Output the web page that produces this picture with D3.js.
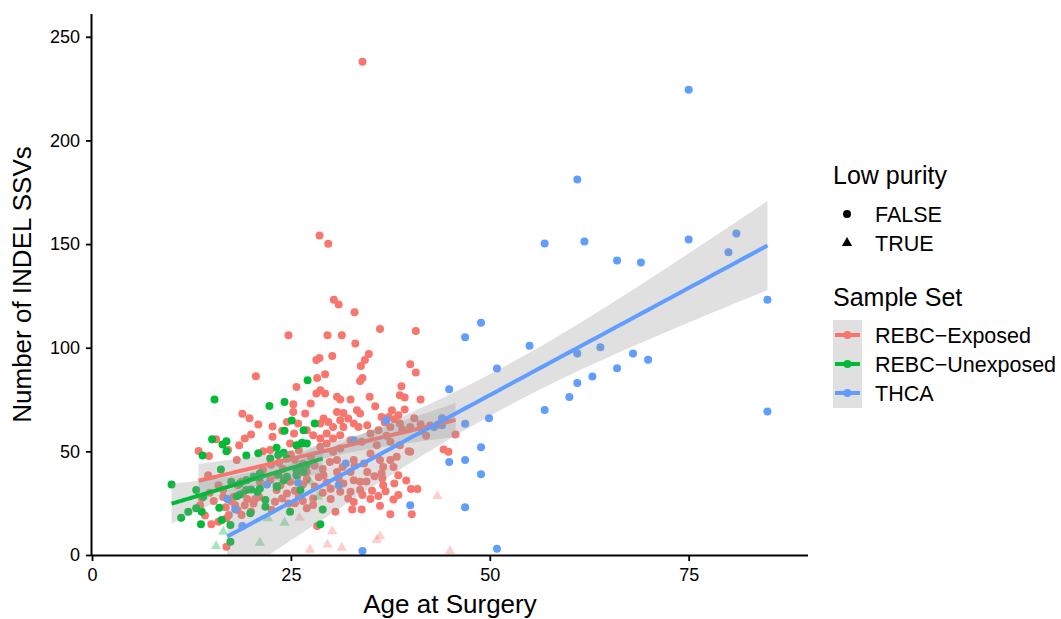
<!DOCTYPE html>
<html><head><meta charset="utf-8">
<script src="https://cdn.jsdelivr.net/npm/d3@7"></script>
<style>body{margin:0;background:#fff}svg{display:block;font-family:"Liberation Sans",Arial,Helvetica,sans-serif}</style>
</head><body><svg id="c" width="1061" height="619"></svg>
<script>
// ---- data: [age at surgery, number of INDEL SSVs] ----
const sampleSets = ["REBC\u2212Exposed", "REBC\u2212Unexposed", "THCA"];
const purityLevels = ["FALSE", "TRUE"];
const xTicks = [0, 25, 50, 75];
const yTicks = [0, 50, 100, 150, 200, 250];

const exposedFalse = [
[34.0,238],[28.6,154.1],[29.7,150.1],[30.4,123.2],[31.0,120.9],[33.0,117.1],[36.2,109.0],[40.7,108.1],[24.7,106.0],[29.6,106.0],[31.4,106.0],[33.1,102.0],[34.8,97.0],[34.3,94.1],[33.8,91.2],[30.2,96.0],[28.2,94.1],[28.6,95.1],[40.0,92.0],[40.7,88.0],[20.6,86.2],[29.3,87.2],[28.3,85.4],[34.0,85.4],[33.7,84.0],
[25.7,81.1],[25.3,72.7],[25.3,69.0],[18.9,68.1],[19.8,66.0],[20.9,62.9],[24.5,64.2],[25.9,63.4],[22.7,62.0],[23.9,59.9],[25.4,58.6],[20.0,58.1],[22.7,57.0],[15.6,55.9],[18.5,53.0],[13.4,50.2],[14.7,47.8],[21.5,50.1],[22.4,50.6],[24.9,53.8],
[38.9,81.4],[28.7,79.5],[29.3,77.9],[28.2,77.9],[30.8,76.3],[31.2,75.0],[32.5,75.0],[34.9,76.3],[38.7,77.1],[39.3,76.0],[41.3,75.0],[35.6,71.8],[27.5,73.1],[26.8,68.3],[30.8,69.0],[31.6,68.5],[33.3,69.8],[33.7,68.3],[37.7,69.8],[36.4,66.6],[37.3,66.6],[38.5,67.4],[29.1,65.8],[29.7,64.2],[28.7,63.4],[31.2,65.0],[32.2,65.8],[32.9,63.4],[30.3,61.8],[31.6,61.8],[33.5,61.8],[34.6,62.6],[36.0,60.2],[37.5,61.8],[38.7,63.4],[45.7,58.1],[44.2,50.9],[44.8,49.8],[27.0,60.2],[27.8,57.8],[28.7,56.2],[29.5,58.6],[30.3,56.2],[31.2,57.8],[35.0,58.6],[32.5,55.4],[33.9,54.6],[28.7,52.2],[29.5,53.8],[30.3,49.8],[31.2,51.4],[35.8,53.0],[37.5,54.6],[38.7,53.0],[40.0,49.8],[36.2,45.8],[37.5,45.8],[38.3,47.4],[35.0,49.0],[29.9,44.9],[30.8,45.8],[32.9,45.8],[34.2,44.2],
[39.3,70.2],[40.0,61.8],[41.3,63.1],[36.4,39.4],[39.8,50.1],
[27.0,40.1],[29.1,38.5],[30.8,40.1],[32.5,40.1],[34.6,40.1],[36.6,42.5],[37.9,42.5],[32.9,36.1],[33.7,35.3],[31.6,34.5],[31.2,30.5],[32.5,30.5],[33.7,31.3],[35.2,31.0],[36.6,33.7],[36.9,30.8],[37.9,26.8],[40.1,31.8],[40.9,31.8],[40.2,19.7],[36.2,23.7],[37.5,19.7],[32.9,25.6],[33.9,22.0],[32.7,22.0],[32.2,27.3],[30.6,20.9],[28.3,14.0],[27.8,24.1],[27.0,22.5],[27.8,27.3],
[15.9,33.7],[16.5,31.3],[14.6,38.5],[15.0,14.8],[15.9,16.0],[16.9,17.7],[17.2,19.3],[16.9,4.0],[18.8,19.3],[18.3,21.7],[23.2,31.3],[23.7,33.7],[24.5,29.7],[23.0,25.7],[23.9,27.3],[24.7,24.9],[22.6,21.7],[20.3,24.9],[18.3,33.7],[18.8,35.3],[19.4,36.1],[21.1,35.3],[22.4,36.1],[23.2,38.5],[24.1,36.9],[24.9,35.3],
[16.5,28.0],[18.0,24.0],[19.5,27.0],[21.0,28.0],[22.5,43.5],[23.5,44.5],[25.5,46.0],[26.5,44.0],[27.5,47.5],[28.0,43.0],[21.5,41.0],[19.0,30.0],[24.0,41.5],[17.5,26.0],[25.0,48.5],[26.0,50.5],
[25.5,31.0],[26.0,28.5],[26.5,34.0],[27.0,36.5],[28.0,33.0],[28.5,37.5],[29.5,35.0],[30.0,32.0],[29.0,30.0],[26.5,26.0],[25.5,25.0],[30.0,27.0],[31.0,37.0],[25.8,38.0],[29.0,41.5],[31.5,42.5],[33.0,43.0],[35.5,38.0],[34.5,35.5],[35.0,27.0],[34.0,29.0],[36.5,37.0],[38.5,38.5],[38.0,34.5],[39.5,36.0],[36.0,28.5],[38.5,29.0],
[42.5,62.5],[43.5,63.0],[41.5,60.0],[42.0,57.5],[17.1,50.6],[19.2,56.2],[18.2,45.8],
[13.6,24.0],[14.2,19.0],[15.3,26.0],[16.8,23.0],[17.8,28.0],[19.2,24.0],[20.5,27.0],[14.8,30.0],[13.8,27.5],[20.0,21.0],
[36.8,64.0],[38.0,65.5],[39.0,60.5],[40.5,66.0],[37.0,57.5]
];
const exposedTrue = [[43.4,28.4],[30.2,11.5],[29.6,5.0],[27.4,2.5],[31.4,3.5],[36.2,9.0],[35.8,7.2],[45.0,1.9],[26.1,17.9]];

const unexposedFalse = [
[15.4,75.0],[22.3,71.9],[24.2,73.8],[25.1,64.9],[24.2,59.9],[15.1,55.9],[16.9,54.9],[16.4,53.3],[16.9,50.1],[13.9,48.0],[19.4,48.0],[20.9,49.1],[23.2,51.7],[24.1,49.3],[25.7,53.0],[16.2,41.3],[27.1,84.3],[28.0,63.4],[26.6,60.2],[26.4,53.8],
[10.0,34.0],[13.1,31.3],[17.5,35.3],[18.6,29.2],[20.0,31.6],[20.8,30.5],[21.1,39.4],[20.3,37.7],[14.0,28.1],[11.2,18.0],[12.1,20.9],[13.1,22.5],[13.8,20.9],[16.0,22.8],[13.7,14.8],[16.3,16.9],[17.4,14.5],[19.9,20.1],[21.8,23.3],[17.4,6.4],[29.0,22.0],[28.7,14.8],
[18.2,28.4],[19.4,31.3],[21.1,32.1],[23.2,33.2],[24.1,36.1],[24.5,37.7],[25.7,40.9],[26.2,42.5],[27.0,43.4],[26.4,54.1],[27.0,53.8],[24.5,46.6],[23.4,48.2],[22.4,46.6],[19.4,36.1],[23.4,39.0],[21.8,26.5],[21.0,37.4],[18.6,34.5],[24.9,20.9],[23.3,32.9],[25.7,38.5],[26.6,40.1],[26.2,31.3]
];
const unexposedTrue = [[15.6,4.3],[16.5,11.2],[21.1,5.9],[22.1,17.7],[24.2,15.6],[27.4,35.3],[28.4,28.1]];

const thcaFalse = [
[75.0,224.5],[61.0,181.2],[56.9,150.3],[61.9,151.2],[66.0,142.1],[69.0,141.1],[75.0,152.2],[81.0,155.1],[80.0,146.0],[84.9,123.2],[84.9,69.2],[48.9,112.1],[46.9,105.1],[55.0,101.0],[50.9,90.0],[61.0,97.2],[63.9,100.2],[68.0,97.2],[69.9,94.2],[66.0,90.1],[61.0,83.0],[62.9,86.1],[60.0,76.2],[56.9,70.0],[44.9,80.0],[46.9,63.3],[49.9,66.0],[44.0,66.0],[43.0,61.8],[44.0,62.6],[48.9,52.0],[46.9,45.8],[44.9,44.9],[48.9,39.0],[46.9,23.0],[50.9,3.0],[40.0,24.0],[34.0,1.9],[37.0,65.0],[32.9,55.4],[31.9,44.2],[31.0,33.7],[22.0,34.0],[17.0,27.0],[18.0,22.1],[18.9,14.0],[25.9,34.8]
];
const thcaTrue = [];

const colors = ["#F8766D", "#00BA38", "#619CFF"];

// ---- layout ----
const svg = d3.select("#c");
const L = 92, R = 808, T = 14, B = 555;
const x = d3.scaleLinear().domain([0, 90]).range([L, R]);
const y = d3.scaleLinear().domain([0, 261]).range([B, T]);

const groups = [
  {name: sampleSets[0], color: colors[0], pts: exposedFalse, tri: exposedTrue},
  {name: sampleSets[1], color: colors[1], pts: unexposedFalse, tri: unexposedTrue},
  {name: sampleSets[2], color: colors[2], pts: thcaFalse, tri: thcaTrue}
];

svg.append("defs").append("clipPath").attr("id", "clip")
  .append("rect").attr("x", L).attr("y", T).attr("width", R - L).attr("height", B - T);

const plot = svg.append("g").attr("clip-path", "url(#clip)");

// points
groups.forEach(g => {
  plot.append("g").selectAll("circle").data(g.pts).join("circle")
    .attr("cx", d => x(d[0])).attr("cy", d => y(d[1])).attr("r", 4)
    .attr("fill", g.color);
  plot.append("g").selectAll("path").data(g.tri).join("path")
    .attr("d", d3.symbol(d3.symbolTriangle, 46))
    .attr("transform", d => `translate(${x(d[0])},${y(d[1])})`)
    .attr("fill", g.color).attr("fill-opacity", 0.35);
});

// linear fit with 95% CI
function tq(df) {
  const z = 1.959964;
  return z + (z ** 3 + z) / (4 * df) + (5 * z ** 5 + 16 * z ** 3 + 3 * z) / (96 * df * df);
}
function fit(data) {
  const n = data.length;
  const mx = d3.mean(data, d => d[0]), my = d3.mean(data, d => d[1]);
  let sxx = 0, sxy = 0;
  data.forEach(d => { sxx += (d[0] - mx) ** 2; sxy += (d[0] - mx) * (d[1] - my); });
  const b = sxy / sxx, a = my - b * mx;
  let sse = 0;
  data.forEach(d => { sse += (d[1] - a - b * d[0]) ** 2; });
  const s = Math.sqrt(sse / (n - 2)), t = tq(n - 2);
  const [x0, x1] = d3.extent(data, d => d[0]);
  return d3.range(80).map(i => {
    const xv = x0 + (x1 - x0) * i / 79;
    const yv = a + b * xv;
    const se = s * Math.sqrt(1 / n + (xv - mx) ** 2 / sxx);
    return {x: xv, y: yv, lo: yv - t * se, hi: yv + t * se};
  });
}
groups.forEach(g => {
  const f = fit(g.pts.concat(g.tri));
  plot.append("path").datum(f)
    .attr("d", d3.area().x(d => x(d.x)).y0(d => y(d.lo)).y1(d => y(d.hi)))
    .attr("fill", "#999999").attr("fill-opacity", 0.3);
  plot.append("path").datum(f)
    .attr("d", d3.line().x(d => x(d.x)).y(d => y(d.y)))
    .attr("fill", "none").attr("stroke", g.color).attr("stroke-width", 4);
});

// axes
const xAxis = svg.append("g").attr("transform", `translate(0,${B})`)
  .call(d3.axisBottom(x).tickValues(xTicks).tickSize(6).tickPadding(7));
const yAxis = svg.append("g").attr("transform", `translate(${L},0)`)
  .call(d3.axisLeft(y).tickValues(yTicks).tickSize(6).tickPadding(6));
[xAxis, yAxis].forEach(a => {
  a.select(".domain").attr("stroke", "#000").attr("stroke-width", 2);
  a.selectAll(".tick line").attr("stroke", "#000").attr("stroke-width", 1.8);
  a.selectAll(".tick text").attr("font-size", 18).attr("fill", "#000")
    .attr("font-family", '"Liberation Sans",Arial,sans-serif');
});
xAxis.select(".domain").attr("d", `M${L},0.5H${R}`);
yAxis.select(".domain").attr("d", `M-0.5,${B}V${T}`);

svg.append("text").attr("x", (L + R) / 2).attr("y", 613).attr("text-anchor", "middle")
  .attr("font-size", 26).text("Age at Surgery");
svg.append("text").attr("transform", `translate(31,${(T + B) / 2}) rotate(-90)`)
  .attr("text-anchor", "middle").attr("font-size", 26).text("Number of INDEL SSVs");

// legend: Low purity
const lg = svg.append("g");
lg.append("text").attr("x", 833).attr("y", 184).attr("font-size", 25).text("Low purity");
purityLevels.forEach((p, i) => {
  const cy = 214 + i * 29;
  if (i === 0) lg.append("circle").attr("cx", 847).attr("cy", cy).attr("r", 4).attr("fill", "#000");
  else lg.append("path").attr("d", d3.symbol(d3.symbolTriangle, 46)).attr("transform", `translate(847,${cy})`).attr("fill", "#000");
  lg.append("text").attr("x", 875).attr("y", cy + 7.5).attr("font-size", 21.5).text(p);
});

// legend: Sample Set
lg.append("text").attr("x", 833).attr("y", 306).attr("font-size", 25).text("Sample Set");
lg.append("rect").attr("x", 833).attr("y", 320).attr("width", 29).attr("height", 88)
  .attr("fill", "#999999").attr("fill-opacity", 0.3);
sampleSets.forEach((s, i) => {
  const cy = 335 + i * 29;
  lg.append("line").attr("x1", 835).attr("x2", 860).attr("y1", cy).attr("y2", cy)
    .attr("stroke", colors[i]).attr("stroke-width", 4);
  lg.append("circle").attr("cx", 847.5).attr("cy", cy).attr("r", 4).attr("fill", colors[i]);
  lg.append("text").attr("x", 875).attr("y", cy + 7.5).attr("font-size", 21.5).text(s);
});
</script>
</body></html>
